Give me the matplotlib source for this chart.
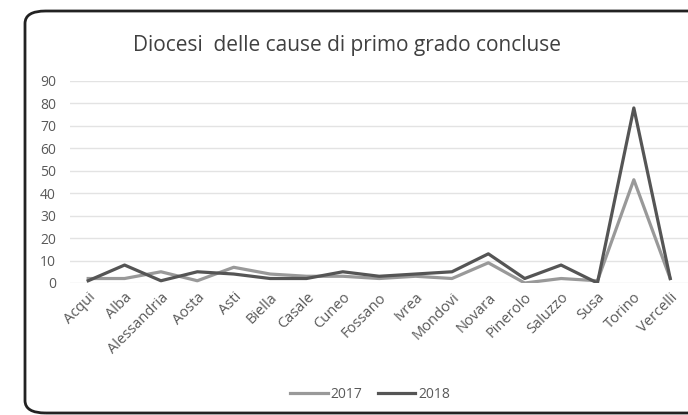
import matplotlib.pyplot as plt
from matplotlib.patches import FancyBboxPatch

# data
diocesi = ['Acqui', 'Alba', 'Alessandria', 'Aosta', 'Asti', 'Biella', 'Casale',
           'Cuneo', 'Fossano', 'Ivrea', 'Mondovi', 'Novara', 'Pinerolo',
           'Saluzzo', 'Susa', 'Torino', 'Vercelli']
cause_2017 = [2, 2, 5, 1, 7, 4, 3, 3, 2, 3, 2, 9, 0, 2, 1, 46, 2]
cause_2018 = [1, 8, 1, 5, 4, 2, 2, 5, 3, 4, 5, 13, 2, 8, 0, 78, 2]
y_ticks = [0, 10, 20, 30, 40, 50, 60, 70, 80, 90]

plt.rcParams['font.family'] = ['Open Sans', 'DejaVu Sans']

fig = plt.figure(figsize=(6.88, 4.15), dpi=100)

# rounded chart frame (right side cut off like in the screenshot)
frame = FancyBboxPatch((25 / 688, 2 / 415), 700 / 688, 402 / 415,
                       boxstyle='round,pad=0,rounding_size=0.03',
                       transform=fig.transFigure, fill=False,
                       edgecolor='#222222', linewidth=2, clip_on=False)
fig.patches.append(frame)

ax = fig.add_axes([70 / 688, (415 - 283) / 415, 618.4 / 688, 202 / 415])
x = range(len(diocesi))
ax.plot(x, cause_2017, color='#999999', linewidth=2.3, label='2017')
ax.plot(x, cause_2018, color='#555555', linewidth=2.3, label='2018')

ax.set_xlim(-0.5, len(diocesi) - 0.5)
ax.set_ylim(0, 90)
ax.set_yticks(y_ticks)
ax.set_xticks(list(x))
ax.set_xticklabels(diocesi, rotation=45, ha='right', rotation_mode='anchor')
ax.tick_params(length=0, labelsize=10, colors='#595959')
ax.tick_params(axis='x', pad=5, labelsize=10.5)
ax.tick_params(axis='y', pad=10)
ax.grid(axis='y', color='#e3e3e3', linewidth=1)
ax.set_axisbelow(True)
for s in ax.spines.values():
    s.set_visible(False)

fig.text(347 / 688, (415 - 46) / 415, 'Diocesi  delle cause di primo grado concluse',
         ha='center', va='center', fontsize=15, color='#404040')

fig.legend(loc='center', bbox_to_anchor=(370 / 688, (415 - 394) / 415), ncol=2,
           frameon=False, fontsize=10, handlelength=2.7, handletextpad=0.2,
           columnspacing=1.1, labelcolor='#595959')

fig.savefig('out.png', dpi=100)
